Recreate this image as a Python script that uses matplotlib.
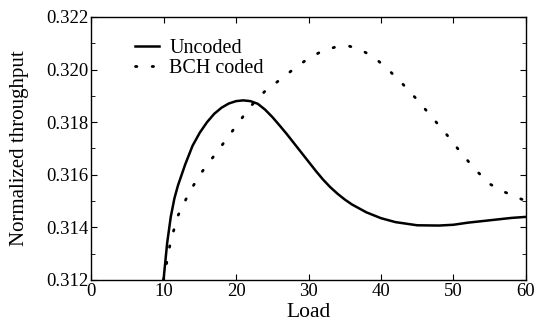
import matplotlib
matplotlib.use("Agg")
import matplotlib.pyplot as plt
from matplotlib.ticker import MultipleLocator

# values
load_uncoded = [10, 10.5, 11, 11.5, 12, 13, 14, 15, 16, 17, 18, 19, 20, 21, 22, 23,
                24, 25, 26, 27, 28, 29, 30, 31, 32, 33, 34, 35, 36, 38, 40, 42,
                45, 48, 50, 52, 55, 58, 60]
uncoded = [0.3120, 0.3134, 0.3144, 0.3151, 0.3156, 0.3164, 0.3171, 0.3176, 0.3180,
           0.31832, 0.31855, 0.31871, 0.3188, 0.31883, 0.3188, 0.3187,
           0.31848, 0.3182, 0.31788, 0.31755, 0.3172, 0.31685, 0.3165, 0.31615,
           0.31582, 0.31553, 0.31528, 0.31506, 0.31487, 0.31457, 0.31435, 0.3142,
           0.31408, 0.31407, 0.3141, 0.31418, 0.31427, 0.31436, 0.3144]

load_bch = [10, 11, 12, 13.5, 15, 16.5, 18, 20, 22, 24, 26, 28, 30, 32, 34, 35.5,
            37, 39, 41, 43, 45, 47, 49, 51, 53, 55, 57, 60]
bch = [0.3120, 0.3135, 0.31445, 0.3153, 0.3160, 0.31655, 0.3171, 0.31785, 0.3186,
       0.31918, 0.3196, 0.32003, 0.32043, 0.32072, 0.32088, 0.3209,
       0.32078, 0.32048, 0.32, 0.31945, 0.31885, 0.3182, 0.31755, 0.31685,
       0.3162, 0.31565, 0.31535, 0.315]

serif = ["Liberation Serif", "DejaVu Serif"]
plt.rcParams["font.family"] = serif

fig = plt.figure(figsize=(5.37, 3.25), dpi=100)
ax = fig.add_axes([0.1695, 0.1385, 0.81, 0.8092])

ax.plot(load_uncoded, uncoded, color="black", linewidth=1.8, label="Uncoded")
ax.plot(load_bch, bch, color="black", linewidth=2.0,
        linestyle=(0, (0.5, 5.5)), dash_capstyle="round", label="BCH coded")

ax.set_xlim(0, 60)
ax.set_ylim(0.312, 0.322)
ax.xaxis.set_major_locator(MultipleLocator(10))
ax.yaxis.set_major_locator(MultipleLocator(0.002))
ax.yaxis.set_minor_locator(MultipleLocator(0.001))
ax.yaxis.set_major_formatter(plt.FormatStrFormatter("%.3f"))
ax.tick_params(which="both", direction="in", top=True, right=True,
               labelsize=13.5, pad=2)
ax.tick_params(which="major", length=4)
ax.tick_params(which="minor", length=3)

for s in ax.spines.values():
    s.set_linewidth(1.0)

ax.set_xlabel("Load", fontsize=15.5, labelpad=2)
ax.set_ylabel("Normalized throughput", fontsize=15, labelpad=12)

leg = ax.legend(loc="upper left", bbox_to_anchor=(0.06, 0.985), frameon=False,
                fontsize=14.5, handlelength=1.2, handletextpad=0.5,
                labelspacing=0.05)

fig.savefig("out.png", dpi=100)
